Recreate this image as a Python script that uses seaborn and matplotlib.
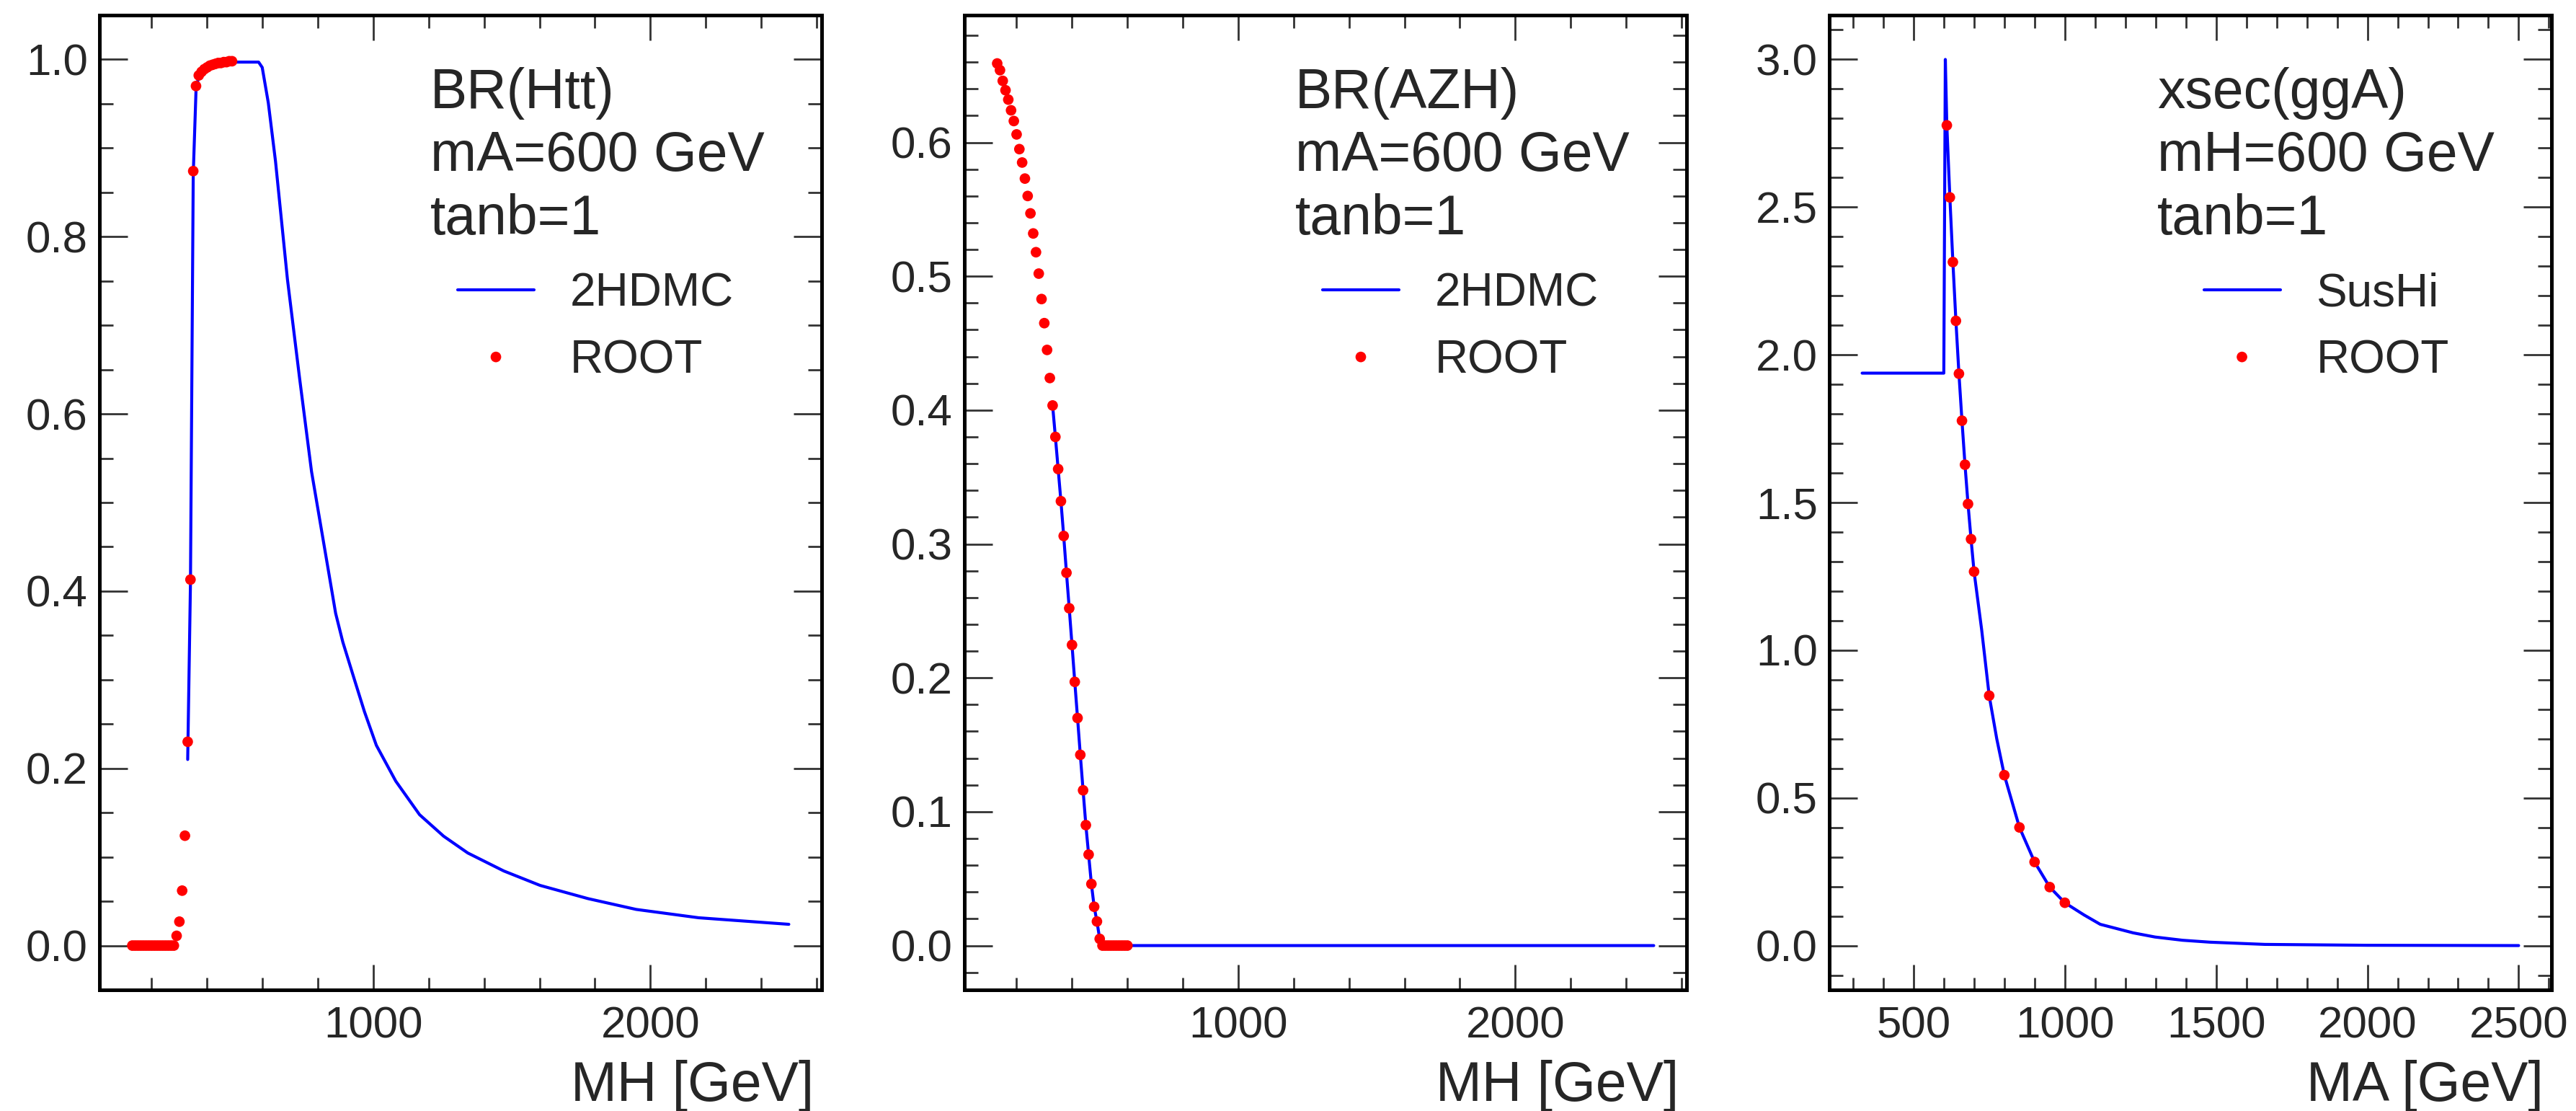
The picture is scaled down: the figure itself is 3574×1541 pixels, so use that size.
import seaborn as sns
import matplotlib.pyplot as plt
from matplotlib.ticker import MultipleLocator, FormatStrFormatter

# ---- panel 1: BR(H -> tt), mA = 600 GeV
htt_root_mh = [130, 140, 150, 160, 170, 180, 190, 200, 210, 220, 230, 240, 250, 260, 270, 280,
               290, 300, 310, 320, 330, 340, 350, 360, 370, 380, 390, 400, 410, 420, 430, 440,
               450, 460, 470, 480, 490]
htt_root_br = [0.0, 0.0, 0.0, 0.0, 0.0, 0.0, 0.0, 0.0, 0.0, 0.0, 0.0, 0.0, 0.0, 0.0, 0.0, 0.0,
               0.011, 0.027, 0.062, 0.124, 0.230, 0.413, 0.874, 0.970, 0.982, 0.986, 0.989, 0.991,
               0.993, 0.994, 0.995, 0.996, 0.996, 0.997, 0.997, 0.998, 0.998]
htt_2hdmc_mh = [330, 340, 350, 360, 370, 400, 450, 500, 586, 599, 621, 647, 690, 734, 777, 842,
                864, 890, 933, 968, 1011, 1081, 1167, 1254, 1341, 1471, 1602, 1775, 1949, 2174,
                2500]
htt_2hdmc_br = [0.21, 0.41, 0.87, 0.965, 0.982, 0.992, 0.996, 0.997, 0.997, 0.991, 0.951, 0.885,
                0.752, 0.640, 0.535, 0.4156, 0.375, 0.3425, 0.299, 0.264, 0.226, 0.1856, 0.1477,
                0.1234, 0.1045, 0.0842, 0.0679, 0.053, 0.0408, 0.0314, 0.024]

# ---- panel 2: BR(A -> ZH), mA = 600 GeV
azh_root_mh = [130, 140, 150, 160, 170, 180, 190, 200, 210, 220, 230, 240, 250, 260, 270, 280,
               290, 300, 310, 320, 330, 340, 350, 360, 370, 380, 390, 400, 410, 420, 430, 440,
               450, 460, 470, 480, 490, 500, 510, 520, 530, 540, 550, 560, 570, 580, 590, 600]
azh_root_br = [0.659, 0.654, 0.646, 0.639, 0.632, 0.624, 0.616, 0.606, 0.595, 0.585, 0.573, 0.560,
               0.547, 0.532, 0.518, 0.502, 0.483, 0.465, 0.445, 0.424, 0.4035, 0.380, 0.356, 0.332,
               0.306, 0.2785, 0.252, 0.2246, 0.197, 0.170, 0.1425, 0.116, 0.090, 0.068, 0.046,
               0.029, 0.018, 0.005, 0.0, 0.0, 0.0, 0.0, 0.0, 0.0, 0.0, 0.0, 0.0, 0.0]
azh_2hdmc_mh = [330, 340, 350, 360, 370, 380, 390, 400, 410, 420, 430, 440, 450, 460, 470, 480,
                490, 500, 510, 2500]
azh_2hdmc_br = [0.4035, 0.380, 0.356, 0.332, 0.306, 0.2785, 0.252, 0.2246, 0.197, 0.170, 0.1425,
                0.116, 0.090, 0.068, 0.046, 0.029, 0.018, 0.005, 0.0, 0.0]

# ---- panel 3: xsec(gg -> A), mH = 600 GeV
gga_root_ma = [610, 620, 630, 640, 650, 660, 670, 680, 690, 700, 750, 800, 850, 900, 950, 1000]
gga_root_xs = [2.777, 2.533, 2.314, 2.115, 1.936, 1.777, 1.628, 1.495, 1.376, 1.266, 0.846, 0.577,
               0.400, 0.283, 0.198, 0.145]
gga_sushi_ma = [330, 600, 605, 610, 620, 630, 640, 650, 660, 670, 680, 690, 700, 725, 750, 775,
                800, 850, 900, 950, 1000, 1063, 1117, 1226, 1298, 1389, 1480, 1661, 2000, 2500]
gga_sushi_xs = [1.938, 1.938, 3.0, 2.777, 2.533, 2.314, 2.115, 1.936, 1.777, 1.628, 1.495, 1.376,
                1.266, 1.07, 0.846, 0.70, 0.577, 0.400, 0.283, 0.198, 0.145, 0.104, 0.072, 0.043,
                0.029, 0.018, 0.0115, 0.004, 0.001, 0.0]

sns.set_style("ticks")
plt.rcParams["font.family"] = ["Liberation Sans", "DejaVu Sans"]

W, H = 3574, 1541
fig = plt.figure(figsize=(W / 200, H / 200), dpi=200)

BIG = 27.7
TICK = 22.3
LEG = 23.0


def draw_panel(left, line_x, line_y, dot_x, dot_y, line_label, texts, xlabel,
               xlim, ylim, xmaj, xmin, ymaj, ymin, text_x, leg_x):
    ax = fig.add_axes([left / W, 168 / H, 1002 / W, 1352 / H])
    sns.lineplot(x=line_x, y=line_y, ax=ax, color="#0000ff", linewidth=1.5,
                 sort=False, estimator=None, label=line_label)
    sns.scatterplot(x=dot_x, y=dot_y, ax=ax, color="#ff0000", s=28,
                    edgecolor="none", label="ROOT", zorder=3)
    ax.set_xlim(*xlim)
    ax.set_ylim(*ylim)
    ax.xaxis.set_major_locator(MultipleLocator(xmaj))
    ax.xaxis.set_minor_locator(MultipleLocator(xmin))
    ax.yaxis.set_major_locator(MultipleLocator(ymaj))
    ax.yaxis.set_minor_locator(MultipleLocator(ymin))
    ax.yaxis.set_major_formatter(FormatStrFormatter("%.1f"))

    ax.tick_params(which="both", direction="in", top=True, right=True,
                   labelsize=TICK, width=1.0, color="#333333")
    ax.tick_params(axis="x", which="major", length=12.6, pad=8)
    ax.tick_params(axis="x", which="minor", length=6.3)
    ax.tick_params(axis="y", which="major", length=14, pad=5.8)
    ax.tick_params(axis="y", which="minor", length=7)
    for sp in ax.spines.values():
        sp.set_linewidth(1.8)
        sp.set_color("black")

    ax.set_xlabel(xlabel, fontsize=BIG, loc="right")
    ax.xaxis.set_label_coords(0.989, -0.072)
    ax.set_ylabel("")

    for txt, yb in zip(texts, [0.9046, 0.8402, 0.7751]):
        ax.text(text_x, yb, txt, transform=ax.transAxes, fontsize=BIG,
                ha="left", va="baseline")

    ax.legend(loc="upper left", bbox_to_anchor=(leg_x, 0.7365), frameon=False,
              fontsize=LEG, handlelength=1.66, handletextpad=0.78, labelspacing=0.52,
              borderpad=0, borderaxespad=0, scatteryoffsets=[0.5])
    return ax


draw_panel(138, htt_2hdmc_mh, htt_2hdmc_br, htt_root_mh, htt_root_br, "2HDMC",
           ["BR(Htt)", "mA=600 GeV", "tanb=1"], "MH [GeV]",
           (11.5, 2618.5), (-0.05, 1.05), 1000, 200, 0.2, 0.05, 0.458, 0.496)
draw_panel(1338, azh_2hdmc_mh, azh_2hdmc_br, azh_root_mh, azh_root_br, "2HDMC",
           ["BR(AZH)", "mA=600 GeV", "tanb=1"], "MH [GeV]",
           (11.5, 2618.5), (-0.0331, 0.6951), 1000, 200, 0.1, 0.02, 0.458, 0.496)
draw_panel(2538, gga_sushi_ma, gga_sushi_xs, gga_root_ma, gga_root_xs, "SusHi",
           ["xsec(ggA)", "mH=600 GeV", "tanb=1"], "MA [GeV]",
           (221.5, 2608.5), (-0.15, 3.15), 500, 100, 0.5, 0.1, 0.454, 0.5185)

fig.savefig("out.png", dpi=200, facecolor="white")
